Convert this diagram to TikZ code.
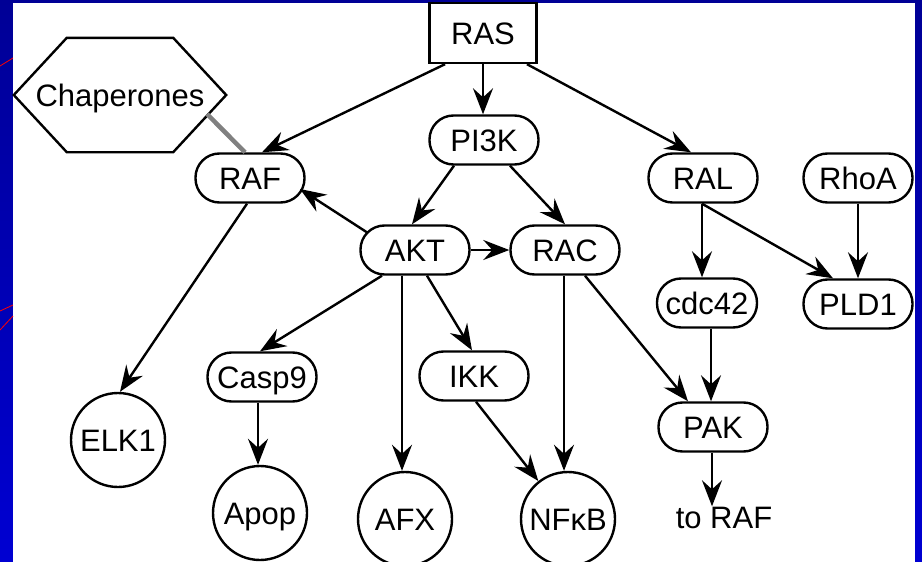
\documentclass[tikz,border=0pt]{standalone}
\usepackage{fontspec}
\setmainfont{Liberation Sans}
\usetikzlibrary{arrows.meta}

\begin{document}
\begin{tikzpicture}[x=1pt,y=-1pt,
  every node/.style={font=\fontsize{31}{37}\selectfont, inner sep=0pt,
                     text height=22pt, text depth=0pt},
  pill/.style={draw, line width=2.4pt, rounded corners=24pt,
               minimum width=109pt, minimum height=49pt},
  ball/.style={draw, circle, line width=2.4pt, minimum size=94pt},
  box/.style={draw, line width=2.4pt, minimum width=107pt, minimum height=60pt},
  link/.style={line width=2.4pt, -{Stealth[length=26pt,width=20pt,inset=9pt]}},
  bond/.style={line width=4.5pt, draw={rgb,255:red,128;green,128;blue,128}},
]
% slide background and white panel
\useasboundingbox (0,0) rectangle (922,562);
\shade[top color={rgb,255:red,0;green,0;blue,150},
       bottom color={rgb,255:red,0;green,0;blue,210}] (0,0) rectangle (922,562);
\fill[white] (13,3) rectangle (915,562);
\draw[red, line width=0.8pt] (0,66) -- (13,58);
\draw[red, line width=0.8pt] (0,311) -- (13,305);
\draw[red, line width=0.8pt] (0,330) -- (13,316);

% nodes
\node[box] (ras) at (483,33) {RAS};
\node[minimum width=212pt, minimum height=114pt] (chap) at (120,95) {Chaperones};
\draw[line width=2.4pt] (chap.west) -- ([xshift=53pt]chap.north west)
  -- ([xshift=-53pt]chap.north east) -- (chap.east)
  -- ([xshift=-53pt]chap.south east) -- ([xshift=53pt]chap.south west) -- cycle;

\node[pill] (raf)   at (250,178) {RAF};
\node[pill] (pi3k)  at (484,140) {PI3K};
\node[pill] (akt)   at (415,250) {AKT};
\node[pill] (rac)   at (565,250) {RAC};
\node[pill] (ral)   at (703,178) {RAL};
\node[pill] (rhoa)  at (858,178) {RhoA};
\node[pill, minimum width=100pt] (cdc42) at (707,303) {cdc42};
\node[pill] (pld1)  at (858,304) {PLD1};
\node[pill] (pak)   at (713,427) {PAK};
\node[pill] (casp9) at (262,377) {Casp9};
\node[pill] (ikk)   at (474,376) {IKK};

\node[ball] (elk1) at (118,440) {ELK1};
\node[ball] (apop) at (260,513) {Apop};
\node[ball] (afx)  at (405,519) {AFX};
\node[ball] (nfkb) at (568,519) {NFκB};
\node (toraf) at (724,517.5) {to RAF};

% connectors
\draw[bond] ([xshift=87pt,yshift=-19pt]chap.center) -- ([xshift=-5pt]raf.north);

\draw[link] ([xshift=-38pt]ras.south) -- ([xshift=12pt]raf.north);
\draw[link] (ras.south) -- (ras.south |- pi3k.north);
\draw[link] ([xshift=44pt]ras.south) -- ([xshift=-12pt]ral.north);

\draw[link] ([xshift=-30pt]pi3k.south) -- ([xshift=-3pt]akt.north);
\draw[link] ([xshift=26pt]pi3k.south) -- (rac.north);

\draw[link] ([xshift=-47pt,yshift=17pt]akt.center) -- ([xshift=50pt,yshift=-11pt]raf.center);
\draw[link] (akt.east) -- (rac.west);
\draw[link] ([xshift=-33pt]akt.south) -- ([xshift=-2pt]casp9.north);
\draw[link] ([xshift=-13pt]akt.south) -- ([xshift=-3pt]afx.north);
\draw[link] ([xshift=12pt]akt.south) -- ([xshift=-2pt]ikk.north);

\draw[link] ([xshift=2pt]ikk.south) -- (nfkb.128);
\draw[link] ([xshift=-1pt]rac.south) -- ([xshift=-4pt]nfkb.north);
\draw[link] ([xshift=20pt]rac.south) -- ([xshift=-25pt]pak.north);

\draw[link] ([xshift=-3pt]raf.south) -- ([xshift=2pt]elk1.north);
\draw[link] ([xshift=-4pt]casp9.south) -- ([xshift=-2pt]apop.north);

\draw[link] ([xshift=-1pt]ral.south) -- ([xshift=-5pt]cdc42.north);
\draw[link] ([xshift=-1pt]ral.south) -- ([xshift=-25pt]pld1.north);
\draw[link] (rhoa.south) -- (pld1.north);
\draw[link] ([xshift=4pt]cdc42.south) -- ([xshift=-2pt]pak.north);
\draw[link] ([xshift=-1pt]pak.south) -- ([xshift=-12pt]toraf.north);
\end{tikzpicture}
\end{document}
